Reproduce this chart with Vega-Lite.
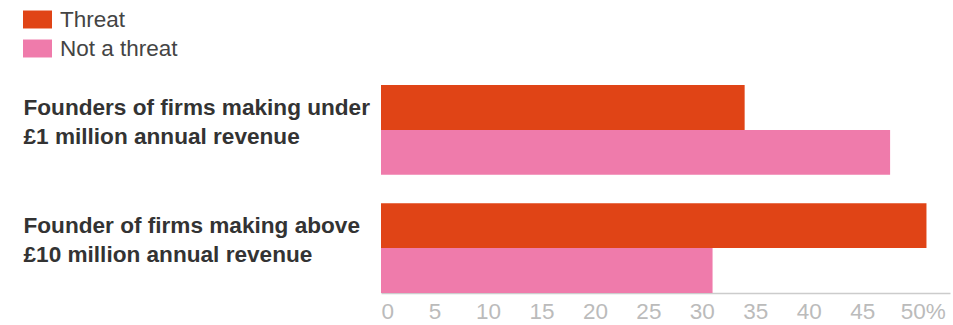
{
  "$schema": "https://vega.github.io/schema/vega-lite/v6.json",
  "autosize": {"type": "none"},
  "width": 569,
  "height": 208,
  "padding": {"left": 381, "top": 85, "right": 3, "bottom": 32},
  "background": "white",
  "data": {
    "values": [
      {"group": "Founders of firms making under £1 million annual revenue", "answer": "Threat", "pct": 34},
      {"group": "Founders of firms making under £1 million annual revenue", "answer": "Not a threat", "pct": 47.6},
      {"group": "Founder of firms making above £10 million annual revenue", "answer": "Threat", "pct": 51},
      {"group": "Founder of firms making above £10 million annual revenue", "answer": "Not a threat", "pct": 31}
    ]
  },
  "mark": {"type": "bar"},
  "encoding": {
    "y": {
      "field": "group",
      "type": "nominal",
      "sort": null,
      "title": null,
      "scale": {"paddingInner": 0.24, "paddingOuter": 0},
      "axis": {
        "domain": false,
        "ticks": false,
        "labelAlign": "left",
        "labelBaseline": "alphabetic",
        "labelPadding": 358,
        "labelOffset": -15,
        "labelLineHeight": 29,
        "labelFont": "Liberation Sans",
        "labelFontWeight": "bold",
        "labelFontSize": 22.6,
        "labelColor": "#333333",
        "labelLimit": 0,
        "labelExpr": "[slice(datum.label, 0, indexof(datum.label, ' £')), slice(datum.label, indexof(datum.label, ' £') + 1)]"
      }
    },
    "yOffset": {"field": "answer", "type": "nominal", "sort": ["Threat", "Not a threat"]},
    "x": {
      "field": "pct",
      "type": "quantitative",
      "title": null,
      "scale": {"domain": [0, 53.2], "nice": false, "zero": true},
      "axis": {
        "values": [0, 5, 10, 15, 20, 25, 30, 35, 40, 45, 50],
        "grid": false,
        "ticks": false,
        "domainColor": "#cccccc",
        "domainWidth": 1.5,
        "labelFlush": false,
        "labelPadding": 7,
        "labelFont": "Liberation Sans",
        "labelFontSize": 22.5,
        "labelColor": "#bbbbbb",
        "labelExpr": "datum.value == 50 ? '50%' : datum.label",
        "labelAlign": {"condition": {"test": "datum.value == 0", "value": "left"}, "value": "center"},
        "labelOffset": {"condition": {"test": "datum.value == 50", "value": 7}, "value": 0}
      }
    },
    "color": {
      "field": "answer",
      "type": "nominal",
      "sort": ["Threat", "Not a threat"],
      "scale": {"domain": ["Threat", "Not a threat"], "range": ["#E04416", "#EF7BAB"]},
      "legend": {
        "title": null,
        "orient": "none",
        "legendX": -358,
        "legendY": -80,
        "direction": "vertical",
        "padding": 0,
        "rowPadding": 3,
        "symbolType": "M-1,-0.62H1V0.62H-1Z",
        "symbolSize": 841,
        "symbolStrokeWidth": 0,
        "symbolOpacity": 1,
        "labelOffset": 8,
        "labelFont": "Liberation Sans",
        "labelFontSize": 22.5,
        "labelColor": "#444444",
        "labelLimit": 0
      }
    }
  },
  "config": {"view": {"stroke": null}}
}
